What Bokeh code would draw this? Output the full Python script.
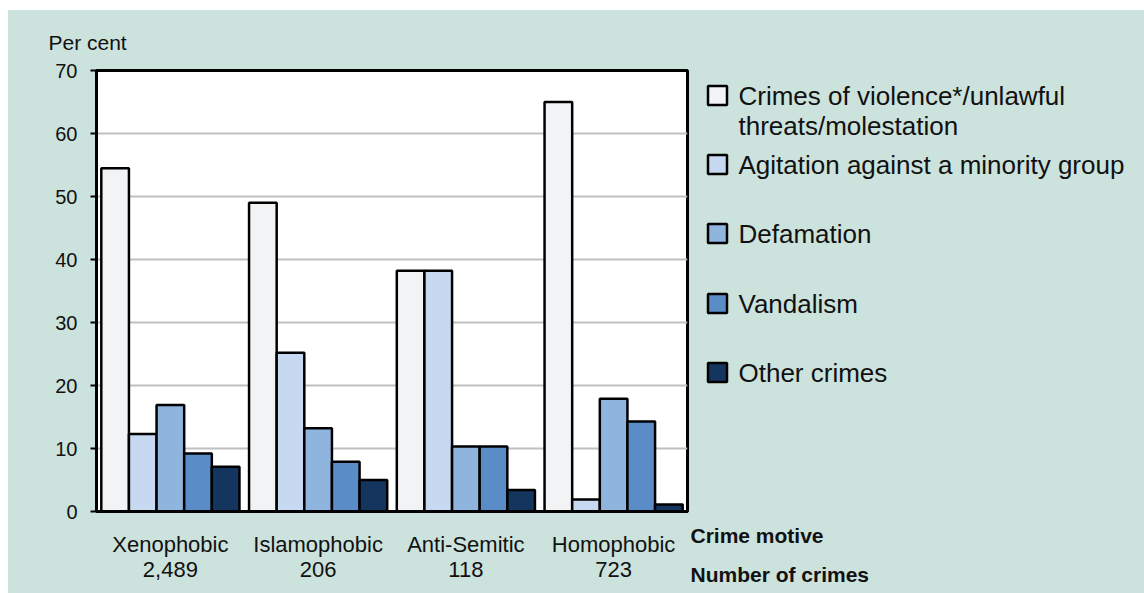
from bokeh.plotting import figure
from bokeh.models import (ColumnDataSource, FactorRange, Range1d, FixedTicker, Title, Spacer)
from bokeh.layouts import row, column
from bokeh.transform import dodge
from bokeh.core.properties import value
from bokeh.embed import file_html
from bokeh.resources import INLINE

motives = ["Xenophobic", "Islamophobic", "Anti-Semitic", "Homophobic"]
counts = ["2,489", "206", "118", "723"]

series_names = [
    "Crimes of violence*/unlawful",
    "Agitation against a minority group",
    "Defamation",
    "Vandalism",
    "Other crimes",
]
violence = [54.5, 49.0, 38.2, 65.0]
agitation = [12.3, 25.2, 38.2, 1.9]
defamation = [16.9, 13.2, 10.3, 17.9]
vandalism = [9.2, 7.9, 10.3, 14.3]
other = [7.1, 5.0, 3.4, 1.1]
colors = ["#F2F3F5", "#C6D9F0", "#8FB4DE", "#5A8CC8", "#14365E"]

FONT = "Liberation Sans"
BG = "#CCE2DC"
TXT = "#111111"

factors = [f"{m}\n{c}" for m, c in zip(motives, counts)]
source = ColumnDataSource(dict(x=factors, s0=violence, s1=agitation, s2=defamation,
                               s3=vandalism, s4=other))

p = figure(width=681, height=583, x_range=FactorRange(*factors, range_padding=0),
           y_range=Range1d(0, 70), output_backend="svg", toolbar_location=None,
           min_border_left=88, min_border_right=2, min_border_top=60, min_border_bottom=82)
p.border_fill_color = BG
p.background_fill_color = "white"
p.outline_line_color = "black"
p.outline_line_width = 3

w = 0.187
for j, key in enumerate(["s0", "s1", "s2", "s3", "s4"]):
    p.vbar(x=dodge("x", (j - 2) * w, range=p.x_range), top=key, width=w, source=source,
           fill_color=colors[j], line_color="black", line_width=2.5)

p.xgrid.visible = False
p.ygrid.grid_line_color = "#BFBFBF"
p.ygrid.grid_line_width = 2

p.yaxis.ticker = FixedTicker(ticks=[0, 10, 20, 30, 40, 50, 60, 70])
p.yaxis.axis_line_width = 3
p.yaxis.axis_line_color = "black"
p.yaxis.major_tick_line_width = 2
p.yaxis.major_tick_out = 6
p.yaxis.major_tick_in = 0
p.yaxis.minor_tick_line_color = None
p.yaxis.major_label_standoff = 13
p.yaxis.major_label_text_font = FONT
p.yaxis.major_label_text_font_size = "20px"
p.yaxis.major_label_text_color = TXT

p.xaxis.axis_line_width = 3
p.xaxis.axis_line_color = "black"
p.xaxis.major_tick_line_color = None
p.xaxis.major_tick_out = 0
p.xaxis.major_tick_in = 0
p.xaxis.major_label_standoff = 20
p.xaxis.major_label_text_font = FONT
p.xaxis.major_label_text_font_size = "22px"
p.xaxis.major_label_text_color = TXT
p.xaxis.major_label_text_line_height = 1.0

p.add_layout(Title(text="Per cent", align="left", offset=-48, standoff=30,
                   vertical_align="top",
                   text_font=FONT, text_font_size="21px", text_font_style="normal",
                   text_color=TXT), "above")

# Legend panel: its frame is aligned with the chart frame (canvas y 60..501),
# so the ranges below map its own canvas pixels, y downward.
lg = figure(width=455, height=583, x_range=Range1d(0, 455), y_range=Range1d(501, 60),
            output_backend="svg", toolbar_location=None, min_border=0)
lg.axis.visible = False
lg.grid.visible = False
lg.outline_line_color = None
lg.border_fill_color = BG
lg.background_fill_alpha = 0

item_y = [85, 154, 223, 293, 362]
lg.scatter(x=[28] * 5, y=item_y, marker="square", size=19, fill_color=colors,
           line_color="black", line_width=2.5)
lg.text(x=[49] * 5, y=item_y, text=series_names, text_font=value(FONT),
        text_font_size="26px", text_baseline="middle", text_color=TXT)
lg.text(x=[49], y=[115], text=["threats/molestation"], text_font=value(FONT),
        text_font_size="26px", text_baseline="middle", text_color=TXT)

lg.add_layout(Title(text="Crime motive", align="left", offset=1, standoff=21,
                    text_font=FONT, text_font_size="21px", text_font_style="bold",
                    text_color=TXT), "below")
lg.add_layout(Title(text="Number of crimes", align="left", offset=1, standoff=6,
                    text_font=FONT, text_font_size="21px", text_font_style="bold",
                    text_color=TXT), "below")

chart = row(p, lg, styles={"background-color": BG})
layout = column(Spacer(height=10), row(Spacer(width=8), chart))
open("out.html", "w").write(file_html(layout, INLINE))
